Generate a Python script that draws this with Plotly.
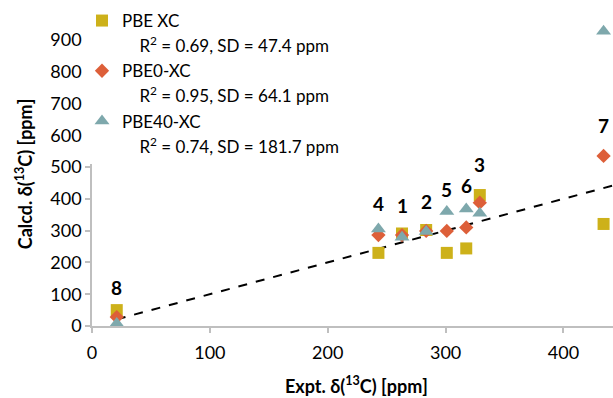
import plotly.graph_objects as go

# Data
labels = ["1", "2", "3", "4", "5", "6", "7", "8"]
expt = [263, 283.5, 329, 243, 301, 317.5, 434, 21]
pbe = [291, 302, 412, 230, 230, 244, 321, 50]
pbe0 = [286, 299, 388, 286, 299, 310, 535, 28]
pbe40 = [279, 297, 355, 305, 360, 368, 927, 8]
label_y = [380, 391, 507, 386, 428, 441, 630, 121]

series_names = ["PBE XC", "PBE0-XC", "PBE40-XC"]
stats_text = ["R<sup>2</sup> = 0.69, SD = 47.4 ppm",
              "R<sup>2</sup> = 0.95, SD = 64.1 ppm",
              "R<sup>2</sup> = 0.74, SD = 181.7 ppm"]
x_title = "<b>Expt. δ(<sup>13</sup>C) [ppm]</b>"
y_title = "<b>Calcd. δ(<sup>13</sup>C) [ppm]</b>"

ideal_x = [21, 460]

x_ticks = [0, 100, 200, 300, 400]
y_ticks = [0, 100, 200, 300, 400, 500, 600, 700, 800, 900]

FONT = "Lato"
colors = ["#CDB11A", "#DD5F39", "#7EA8AC"]
symbols = ["square", "diamond", "triangle-up"]
sizes = [12, 11, 13]

fig = go.Figure()

# reference line y = x
fig.add_trace(go.Scatter(x=ideal_x, y=ideal_x, mode="lines",
                         line=dict(color="black", width=2, dash="dash"),
                         showlegend=False, hoverinfo="skip"))

for i, (name, vals) in enumerate(zip(series_names, [pbe, pbe0, pbe40])):
    fig.add_trace(go.Scatter(x=expt, y=vals, mode="markers", name=name,
                             marker=dict(symbol=symbols[i], size=sizes[i], color=colors[i],
                                         line=dict(width=0)),
                             legendrank=10 * i + 1))
    fig.add_trace(go.Scatter(x=[None], y=[None], mode="markers",
                             name="\u00a0" * 4 + stats_text[i],
                             marker=dict(size=1, color="rgba(0,0,0,0)"),
                             legendrank=10 * i + 2))

for lab, xv, yv in zip(labels, expt, label_y):
    fig.add_annotation(x=xv, y=yv, text="<b>%s</b>" % lab, showarrow=False,
                       font=dict(family=FONT, size=19, color="black"))

# axis titles
fig.add_annotation(xref="paper", yref="paper", x=0.508, y=-0.197, text=x_title,
                   xanchor="center", yanchor="middle",
                   showarrow=False, font=dict(family=FONT, size=18, color="black"))
fig.add_annotation(xref="paper", yref="paper", x=-0.129, y=0.505, text=y_title,
                   xanchor="center", yanchor="middle",
                   textangle=-90, showarrow=False,
                   font=dict(family=FONT, size=18, color="black"))

fig.update_layout(
    width=613, height=398,
    margin=dict(l=92, r=0, t=24, b=72, autoexpand=False),
    paper_bgcolor="white", plot_bgcolor="white",
    font=dict(family=FONT, size=17, color="black"),
    legend=dict(xref="container", yref="container",
                x=82 / 613, y=1 - 3 / 398, xanchor="left", yanchor="top",
                bgcolor="white", borderwidth=0, tracegroupgap=0,
                font=dict(family=FONT, size=17, color="black"),
                itemwidth=30),
    xaxis=dict(range=[0, 442], tickvals=x_ticks, showgrid=False, zeroline=False,
               showline=True, linecolor="#BFBFBF", linewidth=1.5,
               ticks="outside", ticklen=5, tickcolor="#BFBFBF", tickwidth=1.5,
               ticklabelstandoff=5,
               tickfont=dict(family=FONT, size=18)),
    yaxis=dict(range=[0, 950], tickvals=y_ticks, showgrid=False, zeroline=False,
               showline=True, linecolor="#BFBFBF", linewidth=1.5,
               ticks="outside", ticklen=5, tickcolor="#BFBFBF", tickwidth=1.5,
               ticksuffix="\u00a0\u00a0",
               tickfont=dict(family=FONT, size=18)),
)

fig.write_html("out.html", config={"displayModeBar": False},
               post_script="document.body.style.margin='0';")
